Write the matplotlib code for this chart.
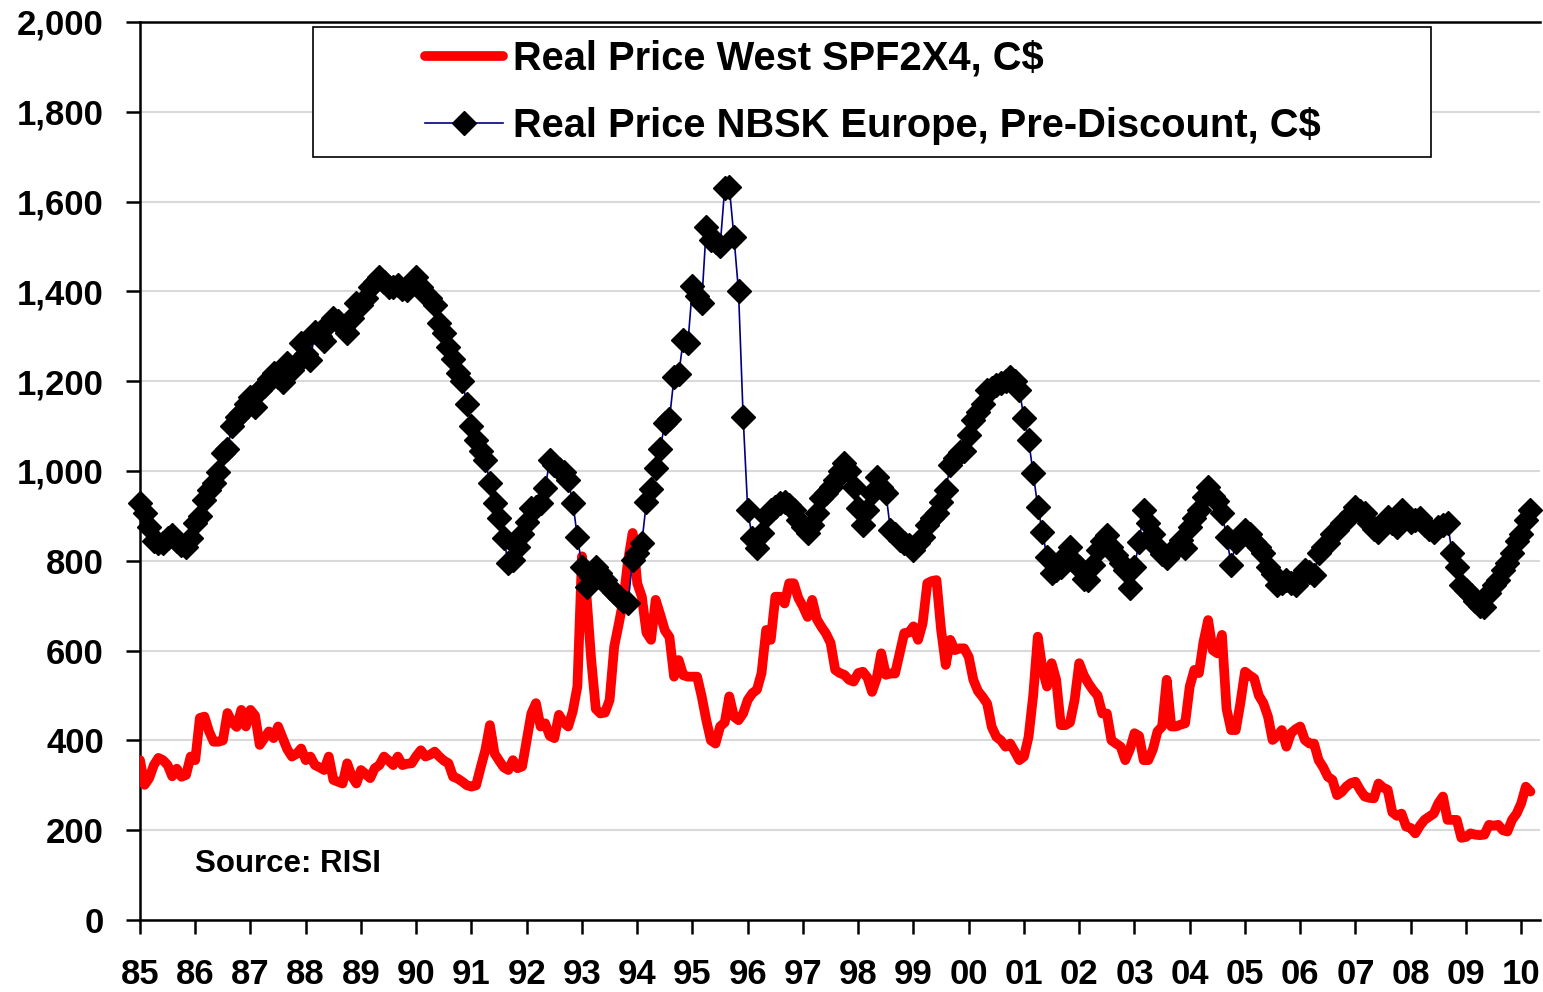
import numpy as np
import matplotlib
matplotlib.use("Agg")
import matplotlib.pyplot as plt
import matplotlib.ticker as mticker
from matplotlib.patches import Rectangle

plt.rcParams.update({
    "font.family": ["Liberation Sans", "DejaVu Sans"],
    "font.weight": "bold",
})

# Monthly data, Jan 1985 - Mar 2010
spf_price = [
    356, 301, 316, 345, 361, 356, 345, 320, 337, 319, 323, 364,   # 85
    356, 450, 453, 420, 397, 397, 400, 461, 440, 430, 468, 431,   # 86
    468, 455, 390, 405, 420, 405, 431, 405, 380, 364, 370, 382,   # 87
    356, 364, 345, 340, 334, 364, 312, 308, 304, 349, 320, 304,   # 88
    334, 325, 316, 338, 345, 364, 355, 345, 364, 345, 348, 349,   # 89
    365, 378, 364, 368, 375, 364, 355, 349, 319, 315, 308, 300,   # 90
    297, 300, 340, 378, 434, 371, 355, 340, 334, 356, 338, 342,   # 91
    401, 460, 483, 431, 438, 410, 405, 457, 440, 431, 465, 520,   # 92
    810, 720, 580, 470, 460, 462, 490, 609, 660, 713, 800, 862,   # 93
    750, 720, 640, 624, 713, 680, 645, 630, 542, 579, 545, 542,   # 94
    542, 542, 498, 445, 400, 393, 431, 440, 498, 453, 445, 460,   # 95
    490, 505, 513, 550, 646, 624, 720, 720, 705, 750, 750, 717,   # 96
    698, 675, 713, 670, 653, 638, 617, 557, 550, 546, 535, 531,   # 97
    550, 553, 540, 508, 538, 594, 546, 549, 549, 594, 639, 640,   # 98
    654, 624, 661, 750, 755, 757, 646, 568, 624, 601, 605, 605,   # 99
    586, 535, 510, 497, 482, 430, 408, 400, 386, 393, 375, 356,   # 00
    364, 408, 500, 631, 560, 520, 572, 535, 434, 434, 440, 490,   # 01
    572, 545, 527, 512, 500, 460, 460, 400, 393, 386, 356, 380,   # 02
    416, 410, 356, 356, 380, 420, 431, 535, 431, 431, 435, 438,   # 03
    520, 557, 550, 620, 668, 601, 594, 635, 470, 423, 423, 483,   # 04
    553, 545, 538, 500, 483, 453, 401, 410, 423, 386, 416, 425,   # 05
    431, 401, 393, 393, 356, 340, 319, 312, 278, 285, 297, 305,   # 06
    308, 290, 275, 272, 271, 304, 295, 290, 240, 232, 237, 208,   # 07
    205, 193, 210, 223, 230, 237, 260, 275, 223, 223, 223, 183,   # 08
    185, 193, 190, 189, 190, 212, 210, 212, 200, 197, 223, 237,   # 09
    260, 297, 286,                                                # 10
]

nbsk_price = [
    928, 906, 875, 845, 840, 840, 850, 857, 845, 835, 831, 850,
    884, 900, 935, 957, 973, 998, 1040, 1050, 1100, 1121, 1130, 1150,
    1165, 1143, 1180, 1190, 1205, 1218, 1210, 1199, 1240, 1225, 1240, 1285,
    1260, 1247, 1310, 1300, 1290, 1330, 1340, 1335, 1320, 1307, 1340, 1374,
    1370, 1385, 1410, 1421, 1432, 1420, 1410, 1410, 1415, 1405, 1403, 1420,
    1432, 1410, 1395, 1385, 1370, 1330, 1307, 1277, 1250, 1218, 1200, 1150,
    1100, 1070, 1045, 1024, 973, 929, 895, 850, 794, 802, 830, 860,
    887, 917, 920, 929, 962, 1024, 1013, 1005, 998, 980, 929, 854,
    787, 742, 765, 787, 772, 757, 739, 730, 720, 710, 706, 802,
    817, 840, 932, 960, 1007, 1050, 1107, 1115, 1210, 1215, 1292, 1285,
    1411, 1390, 1374, 1544, 1514, 1510, 1500, 1630, 1632, 1522, 1400, 1121,
    913, 850, 828, 862, 900, 913, 920, 929, 930, 925, 913, 890,
    876, 862, 880, 906, 940, 951, 965, 980, 1000, 1018, 1000, 965,
    917, 880, 913, 950, 987, 965, 951, 869, 860, 846, 840, 835,
    824, 840, 854, 880, 895, 906, 930, 958, 1013, 1030, 1043, 1045,
    1080, 1114, 1132, 1150, 1180, 1185, 1192, 1195, 1200, 1210, 1200, 1180,
    1118, 1069, 995, 920, 865, 809, 772, 780, 787, 810, 831, 795,
    787, 760, 757, 790, 824, 845, 857, 830, 813, 795, 780, 739,
    787, 842, 913, 884, 860, 831, 815, 806, 817, 830, 846, 828,
    876, 895, 913, 942, 965, 945, 933, 906, 854, 791, 842, 855,
    869, 860, 842, 830, 817, 787, 770, 746, 750, 757, 750, 746,
    765, 780, 775, 769, 817, 830, 840, 860, 869, 884, 890, 905,
    920, 912, 906, 884, 870, 864, 885, 898, 885, 876, 913, 895,
    887, 890, 895, 880, 870, 864, 876, 880, 884, 817, 787, 746,
    735, 724, 710, 700, 698, 728, 745, 757, 780, 795, 817, 845,
    860, 890, 913,
]

years = list(range(1985, 2011))
year_labels = [f"{y % 100:02d}" for y in years]
y_ticks = list(range(0, 2001, 200))

x = 1985 + np.arange(len(spf_price)) / 12.0

W, H = 1543, 992
fig = plt.figure(figsize=(W / 100, H / 100), dpi=100)
ax = fig.add_axes([140 / W, 1 - 920 / H, 1400 / W, 898 / H])

ax.plot(x, spf_price, color="#ff0000", lw=7, solid_capstyle="round",
        solid_joinstyle="round", zorder=3, label="Real Price West SPF2X4, C$")
ax.plot(x, nbsk_price, color="#000080", lw=1.2, marker="D", ms=12,
        mfc="black", mec="black", zorder=4, clip_on=False,
        label="Real Price NBSK Europe, Pre-Discount, C$")

ax.set_xlim(1985, 2010.34)
ax.set_ylim(0, 2000)
ax.set_xticks(years)
ax.set_xticklabels(year_labels)
ax.set_yticks(y_ticks)
ax.yaxis.set_major_formatter(mticker.FuncFormatter(lambda v, _: f"{v:,.0f}"))
ax.tick_params(axis="both", direction="out", length=10, width=1.8,
               labelsize=25)
ax.tick_params(axis="x", pad=17)
ax.tick_params(axis="y", pad=16)
for lab in ax.get_xticklabels() + ax.get_yticklabels():
    lab.set_fontweight("bold")

ax.grid(axis="y", color="#d9d9d9", lw=1.5, zorder=0)
ax.set_axisbelow(True)
for side in ["left", "bottom", "top"]:
    ax.spines[side].set_linewidth(1.8)
ax.spines["right"].set_visible(False)

ax.text(55 / 1400, 0.062, "Source: RISI",
        transform=ax.transAxes, fontsize=22.5, fontweight="bold",
        va="center", ha="left")

# Legend box (Excel-style, wider than its contents)
fig.patches.append(Rectangle((313 / W, 1 - 157 / H), 1118 / W, 130 / H,
                             transform=fig.transFigure, facecolor="white",
                             edgecolor="black", lw=1.2, zorder=1))
handles, labels = ax.get_legend_handles_labels()
leg = fig.legend(handles, labels, loc="upper left",
                 bbox_to_anchor=(425 / W, 1 - 40 / H),
                 bbox_transform=fig.transFigure, frameon=False,
                 handlelength=1.95, handletextpad=0.25,
                 labelspacing=0.72, borderpad=0, borderaxespad=0,
                 prop={"weight": "bold", "size": 28.7})
leg.set_zorder(5)

fig.savefig("out.png", dpi=100)
